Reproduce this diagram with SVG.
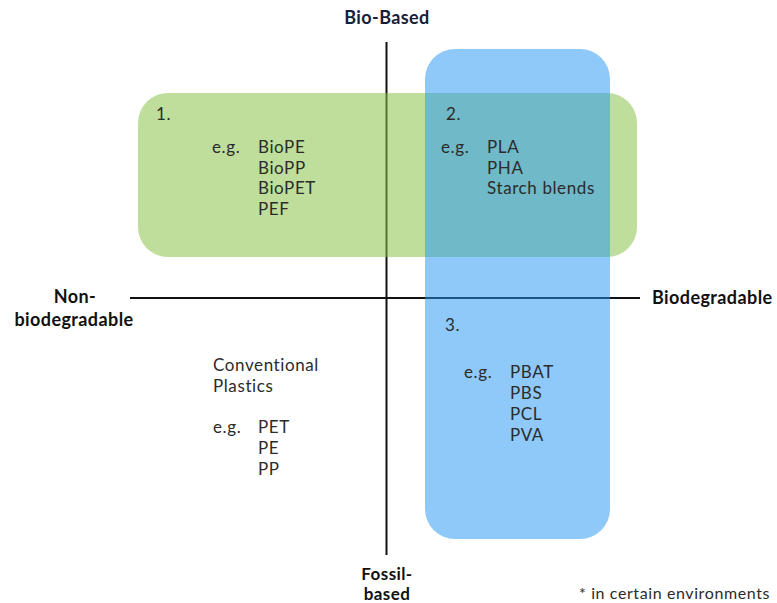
<svg xmlns="http://www.w3.org/2000/svg" width="777" height="603" viewBox="0 0 777 603">
<style>
.t{font-family:Lato,"Open Sans",sans-serif;font-size:17px;letter-spacing:0.6px;fill:#2b2b2b}
.b{font-family:Lato,"Open Sans",sans-serif;font-size:18px;letter-spacing:0.4px;font-weight:bold;fill:#111}
.ax{stroke:#111;stroke-width:2;fill:none}
</style>
<rect width="777" height="603" fill="#fff"/>
<g id="axes">
<line class="ax" x1="386.5" y1="42" x2="386.5" y2="555"/>
<line class="ax" x1="130" y1="298" x2="640" y2="298"/>
</g>
<g id="green-region">
<rect x="138" y="93" width="499" height="164" rx="30" fill="#8bc34a" fill-opacity="0.55"/>
</g>
<g id="blue-region">
<rect x="425" y="49" width="185" height="490" rx="30" fill="#2196f3" fill-opacity="0.51"/>
</g>
<g id="labels">
<text class="b" x="387" y="24" text-anchor="middle" style="fill:#16213a">Bio-Based</text>
<text class="b" x="652" y="304">Biodegradable</text>
<text class="b" x="75" y="303" text-anchor="middle">Non-</text>
<text class="b" x="74" y="326" text-anchor="middle">biodegradable</text>
<text class="b" x="387" y="580" text-anchor="middle" style="font-size:17px">Fossil-</text>
<text class="b" x="387" y="600" text-anchor="middle" style="font-size:17px">based</text>
<text class="t" x="770" y="599" text-anchor="end" style="font-size:16px">* in certain environments</text>
</g>
<g id="q1">
<text class="t" x="156" y="120">1.</text>
<text class="t" x="212" y="153">e.g.</text>
<text class="t" x="258" y="153">BioPE</text>
<text class="t" x="258" y="174">BioPP</text>
<text class="t" x="258" y="194">BioPET</text>
<text class="t" x="258" y="215">PEF</text>
</g>
<g id="q2">
<text class="t" x="446" y="120">2.</text>
<text class="t" x="441" y="153">e.g.</text>
<text class="t" x="487" y="153">PLA</text>
<text class="t" x="487" y="174">PHA</text>
<text class="t" x="487" y="194">Starch blends</text>
</g>
<g id="q3">
<text class="t" x="445" y="331">3.</text>
<text class="t" x="464" y="378">e.g.</text>
<text class="t" x="510" y="378">PBAT</text>
<text class="t" x="510" y="399">PBS</text>
<text class="t" x="510" y="420">PCL</text>
<text class="t" x="510" y="441">PVA</text>
</g>
<g id="q4">
<text class="t" x="213" y="371">Conventional</text>
<text class="t" x="213" y="392">Plastics</text>
<text class="t" x="213" y="433">e.g.</text>
<text class="t" x="258" y="433">PET</text>
<text class="t" x="258" y="454">PE</text>
<text class="t" x="258" y="475">PP</text>
</g>
</svg>
